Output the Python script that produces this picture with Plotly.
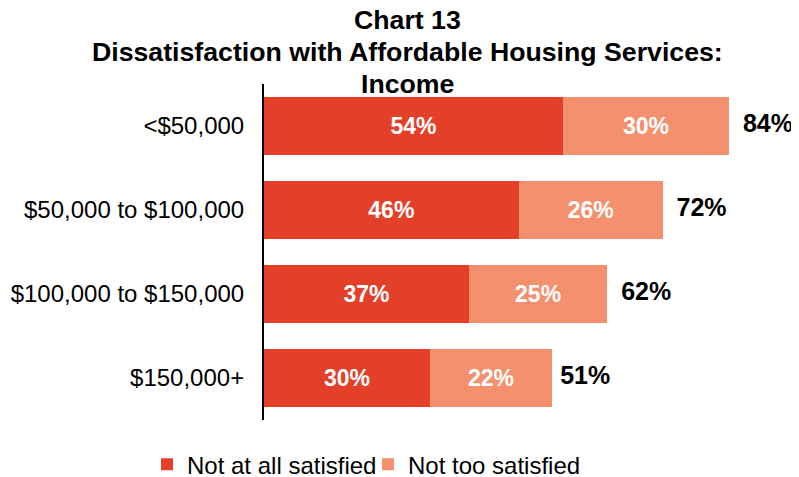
import plotly.graph_objects as go

categories = ["<$50,000", "$50,000 to $100,000", "$100,000 to $150,000", "$150,000+"]
not_at_all = [54, 46, 37, 30]
not_too = [30, 26, 25, 22]
totals = [84, 72, 62, 51]
series_names = ["Not at all satisfied", "Not too satisfied"]
colors = ["#E43F28", "#F5906E"]
title_lines = ["Chart 13", "Dissatisfaction with Affordable Housing Services:", "Income"]
FONT = "Liberation Sans, Arial, sans-serif"

# page body has an 8px margin, so the figure is sized/offset to compensate
W, H = 791, 469
L, R, T, B = 256, 9, 76, 57
PW, PH = W - L - R, H - T - B

fig = go.Figure()
for name, vals, col in zip(series_names, [not_at_all, not_too], colors):
    fig.add_trace(go.Bar(
        y=categories, x=vals, name=name, orientation="h",
        marker=dict(color=col, line=dict(width=0)),
        width=0.68,
        text=[f"<b>{v}%</b>" for v in vals], textposition="inside",
        insidetextanchor="middle",
        textfont=dict(color="white", size=23, family=FONT),
        hoverinfo="skip",
    ))

fig.add_trace(go.Scatter(
    y=categories, x=[t + 2.5 for t in totals], mode="text",
    text=[f"<b>{t}%</b>" for t in totals], textposition="middle right",
    textfont=dict(color="black", size=25, family=FONT),
    showlegend=False, hoverinfo="skip", cliponaxis=False,
))

for i, (line, cy) in enumerate(zip(title_lines, [12, 44, 76])):
    fig.add_annotation(
        text=f"<b>{line}</b>",
        xref="paper", yref="paper", x=(399 - L) / PW, y=1 + (T - cy) / PH,
        xanchor="center", yanchor="middle", showarrow=False,
        font=dict(size=26.7, color="black", family=FONT),
    )

fig.update_layout(
    width=W, height=H,
    barmode="stack",
    plot_bgcolor="white", paper_bgcolor="white",
    margin=dict(l=L, r=R, t=T, b=B, autoexpand=False),
    font=dict(family=FONT, color="black"),
    xaxis=dict(range=[0, 95], visible=False, fixedrange=True, automargin=False),
    yaxis=dict(
        categoryorder="array", categoryarray=categories[::-1],
        range=[-0.5, 3.5], automargin=False,
        showline=True, linecolor="black", linewidth=2,
        showgrid=False, ticks="", ticklen=0,
        tickfont=dict(size=24, color="black"),
        ticklabelstandoff=13,
    ),
    legend=dict(
        orientation="h", x=(360 - L) / PW, xanchor="center", y=-0.066, yanchor="top",
        font=dict(size=24, color="black"), traceorder="normal",
        itemwidth=30, entrywidth=176, entrywidthmode="pixels",
    ),
    bargap=0.32,
)

fig.write_html("out.html")
